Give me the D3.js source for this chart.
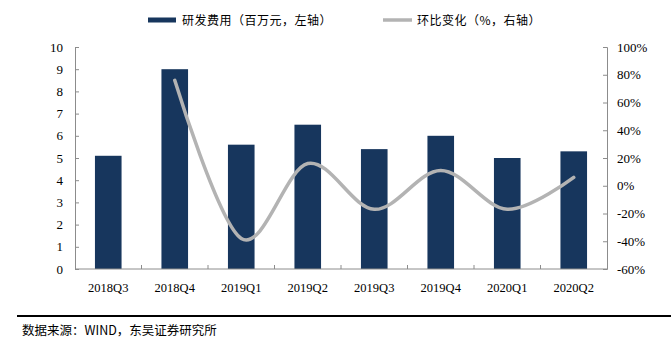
<!DOCTYPE html>
<html><head><meta charset="utf-8">
<script src="https://cdn.jsdelivr.net/npm/d3@7"></script>
<style>body{margin:0;background:#fff}svg{display:block}</style>
</head><body>
<svg id="c" width="671" height="344"></svg>
<script>
const categories = ["2018Q3","2018Q4","2019Q1","2019Q2","2019Q3","2019Q4","2020Q1","2020Q2"];
const rdExpense = [5.1, 9.0, 5.6, 6.5, 5.4, 6.0, 5.0, 5.3];
const qoqChange = [null, 76, -38, 16, -17, 11, -17, 6];
const leftTicks = [0,1,2,3,4,5,6,7,8,9,10];
const rightTicks = [-60,-40,-20,0,20,40,60,80,100];
const legendLabels = ["研发费用（百万元，左轴）", "环比变化（%，右轴）"];
const sourceText = "数据来源：WIND，东吴证券研究所";

const svg = d3.select("#c");
const L = 75, R = 607, T = 47, B = 269;
const barColor = "#17365d", lineColor = "#b3b3b3", axisColor = "#8c8c8c";
const serif = "'Liberation Serif','Times New Roman',serif";
const cjk = "'Noto Sans CJK SC','Noto Sans',sans-serif";

const x = d3.scaleBand().domain(categories).range([L, R]).paddingInner(0.6).paddingOuter(0.3);
const xb = d3.scaleBand().domain(categories).range([L, R]);
const yL = d3.scaleLinear().domain([0, 10]).range([B, T]);
const yR = d3.scaleLinear().domain([-60, 100]).range([B, T]);

// bars
svg.append("g").selectAll("rect").data(rdExpense).join("rect")
  .attr("x", (d,i) => x(categories[i]))
  .attr("width", x.bandwidth())
  .attr("y", d => yL(d))
  .attr("height", d => yL(0) - yL(d))
  .attr("fill", barColor);

// axes
const gL = svg.append("g").attr("transform", `translate(${L},0)`)
  .call(d3.axisRight(yL).tickValues(leftTicks).tickSize(4).tickFormat(d3.format("d")));
gL.selectAll("text").attr("x", -12).attr("text-anchor", "end");
const gR = svg.append("g").attr("transform", `translate(${R},0)`)
  .call(d3.axisLeft(yR).tickValues(rightTicks).tickSize(4).tickFormat(d => d + "%"));
gR.selectAll("text").attr("x", 10).attr("text-anchor", "start");
const gX = svg.append("g").attr("transform", `translate(0,${B})`)
  .call(d3.axisBottom(xb).tickSize(0).tickPadding(14));
gX.select(".domain").remove();
svg.append("line").attr("x1", L).attr("x2", R).attr("y1", B).attr("y2", B).attr("stroke", axisColor);
// category boundary ticks (inward)
svg.append("g").selectAll("line").data(categories.slice(1)).join("line")
  .attr("x1", d => xb(d)).attr("x2", d => xb(d)).attr("y1", B).attr("y2", B - 4)
  .attr("stroke", axisColor);

[gL, gR, gX].forEach(g => {
  g.attr("font-family", serif);
  g.selectAll(".domain").attr("stroke", axisColor);
  g.selectAll(".tick line").attr("stroke", axisColor);
  g.selectAll("text").attr("font-family", serif).attr("font-size", 13).attr("fill", "#000");
});
gX.selectAll("text").attr("font-size", 12.5);

// line
const pts = qoqChange.map((v,i) => [xb(categories[i]) + xb.bandwidth()/2, v]).filter(p => p[1] !== null);
const line = d3.line().x(p => p[0]).y(p => yR(p[1])).curve(d3.curveCardinal.tension(0));
svg.append("path").attr("d", line(pts)).attr("fill", "none")
  .attr("stroke", lineColor).attr("stroke-width", 3.5).attr("stroke-linecap", "round");

// legend
const lg = svg.append("g");
lg.append("rect").attr("x", 148).attr("y", 17.5).attr("width", 28).attr("height", 5).attr("fill", barColor);
lg.append("text").attr("x", 182).attr("y", 25).text(legendLabels[0])
  .attr("font-family", cjk).attr("font-size", 12).attr("letter-spacing", 0.5);
lg.append("line").attr("x1", 383).attr("x2", 412).attr("y1", 20).attr("y2", 20)
  .attr("stroke", lineColor).attr("stroke-width", 3.5);
lg.append("text").attr("x", 417).attr("y", 25).text(legendLabels[1])
  .attr("font-family", cjk).attr("font-size", 12).attr("letter-spacing", 0.5);

// footer
svg.append("line").attr("x1", 17).attr("x2", 671).attr("y1", 316).attr("y2", 316)
  .attr("stroke", "#000").attr("stroke-width", 2);
svg.append("text").attr("x", 22).attr("y", 335).text(sourceText)
  .attr("font-family", cjk).attr("font-size", 12.5);
</script>
</body></html>
